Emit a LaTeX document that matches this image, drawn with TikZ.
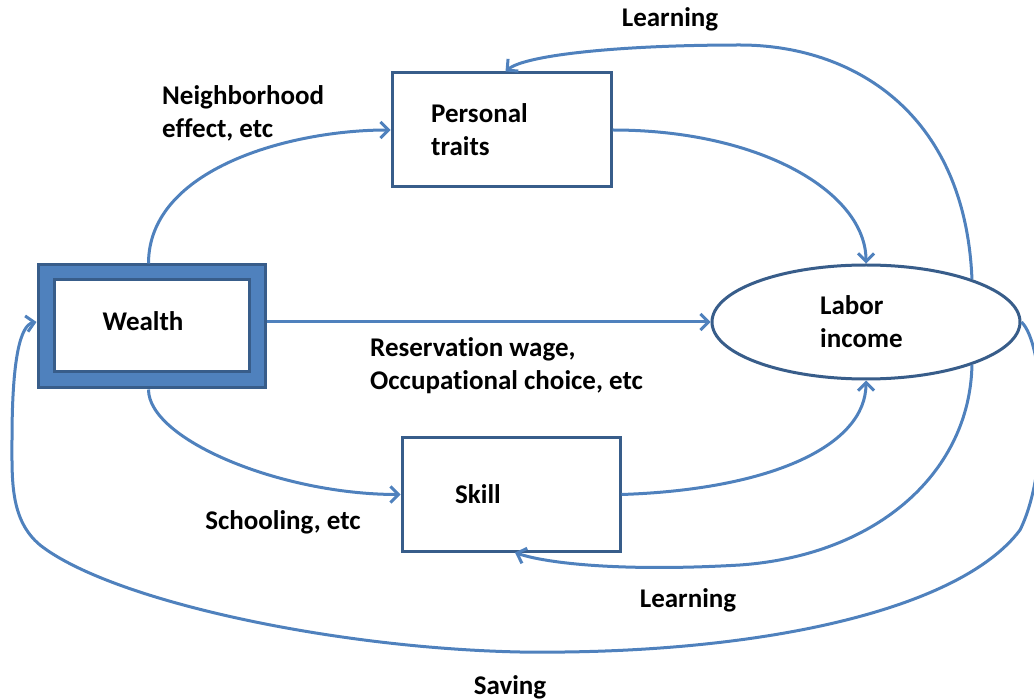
\documentclass[tikz,border=0pt]{standalone}
\usepackage{fontspec}
\setmainfont{Carlito}[Ligatures=NoCommon]
\usetikzlibrary{arrows.meta,shapes.geometric}
\definecolor{linkblue}{HTML}{4F81BD}
\definecolor{boxblue}{HTML}{385D8A}
\tikzset{
  conn/.style={draw=linkblue, line width=3pt, -{Straight Barb[length=8pt,width=16pt,line width=3pt]}},
  plainbox/.style={draw=boxblue, line width=3pt, fill=white, inner sep=0pt},
  txt/.style={font=\fontsize{27}{33}\selectfont\bfseries, inner sep=0pt, align=left},
}
\begin{document}
\begin{tikzpicture}[x=1pt,y=-1pt]
\useasboundingbox (0,0) rectangle (1034,700);
\clip (0,0) rectangle (1034,700);
% nodes
\node[draw=boxblue, fill=linkblue, line width=3pt, minimum width=227pt, minimum height=123pt, inner sep=0pt] (wealth) at (151.5,326.5) {};
\node[plainbox, minimum width=195pt, minimum height=92pt] (wealthin) at (151.5,326) {};
\node[txt] (wealthtxt) at (143,321) {Wealth};
\node[plainbox, minimum width=219pt, minimum height=114pt] (pt) at (501.5,130) {};
\node[txt, anchor=west] (pttxt) at (431,130) {Personal\\traits};
\node[plainbox, minimum width=218pt, minimum height=113pt] (skill) at (511,494.5) {};
\node[txt, anchor=west] (skilltxt) at (455,494) {Skill};
\node[plainbox, ellipse, minimum width=308pt, minimum height=114pt] (lab) at (866,322) {};
\node[txt, anchor=west] (labtxt) at (820,322) {Labor\\income};
% labels
\node[txt] (learn1) at (670,19) {Learning};
\node[txt, anchor=west] (neigh) at (162,113) {Neighborhood\\effect, etc};
\node[txt, anchor=west] (resw) at (370,366) {Reservation wage,\\Occupational choice, etc};
\node[txt] (school) at (283,522) {Schooling, etc};
\node[txt] (learn2) at (688,600) {Learning};
\node[txt] (saving) at (510,687) {Saving};
% connectors
\draw[conn] ([xshift=-3pt]wealth.north) .. controls +(0,-95) and +(-100,0) .. (pt.west);
\draw[conn] (pt.east) .. controls +(150,0) and +(0,-70) .. (lab.north);
\draw[conn] (wealth.east |- lab.west) -- (lab.west);
\draw[conn] ([xshift=-3pt]wealth.south) .. controls +(0,50) and +(-120,0) .. (skill.west);
\draw[conn] (skill.east) .. controls +(150,-5) and +(0,65) .. (lab.south);
\draw[conn] (lab.22) .. controls (965,110) and (850,45) .. (740,45) .. controls (620,45) and (525,55) .. ([xshift=4pt]pt.north);
\draw[conn] (lab.-22) .. controls (970,470) and (880,555) .. (740,565) .. controls (620,572) and (545,563) .. ([xshift=4pt]skill.south);
\draw[conn] (lab.east) .. controls (1045,345) and (1050,470) .. (1020,530) .. controls (960,610) and (760,655) .. (520,652) .. controls (330,648) and (110,600) .. (40,545) .. controls (10,520) and (12,480) .. (12,440) .. controls (12,360) and (20,325) .. (wealth.west |- lab.west);
\end{tikzpicture}
\end{document}
